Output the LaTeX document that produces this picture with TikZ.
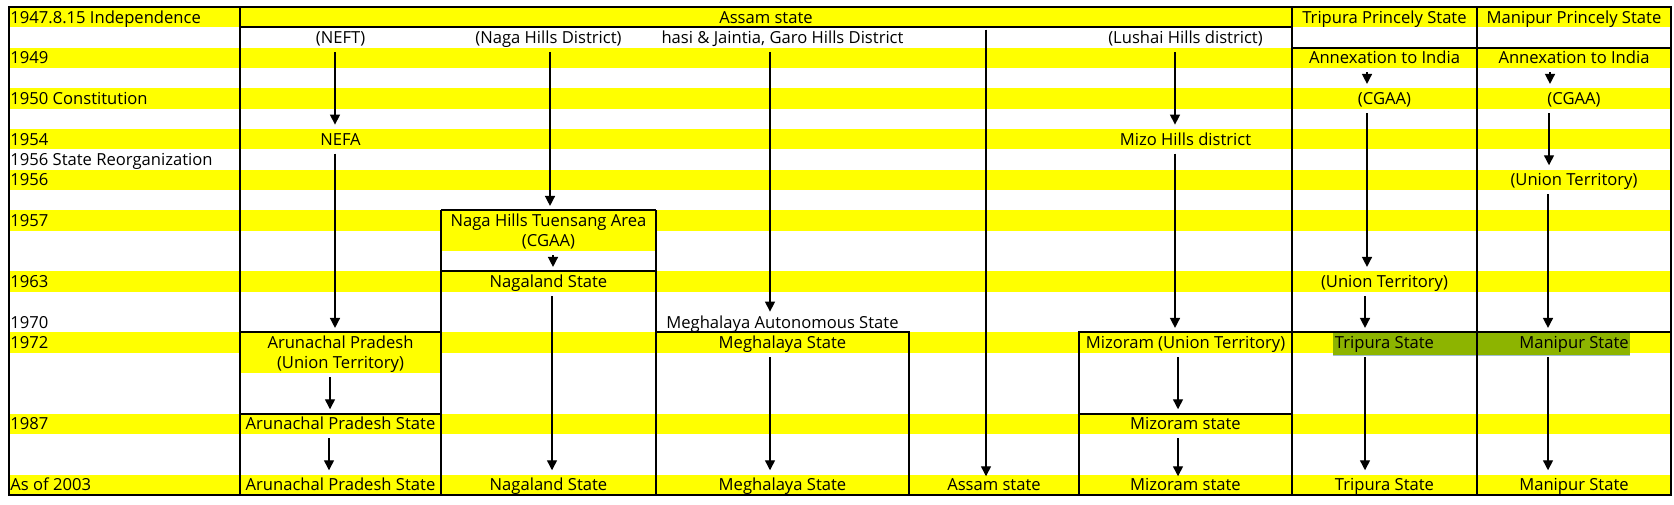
\documentclass[tikz,border=0pt]{standalone}
\usepackage{fontspec}
\setmainfont{Open Sans}
\usetikzlibrary{arrows.meta,calc}
\definecolor{hlyellow}{RGB}{255,255,0}
\definecolor{hlgreen}{RGB}{141,180,0}
\definecolor{hlblue}{RGB}{160,190,210}

\tikzset{
  cell/.style={inner sep=0pt, minimum height=10.1667pt, text height=5.9pt, text depth=0pt, font=\fontsize{8.3}{10}\selectfont},
  yearlbl/.style={cell, anchor=west},
  arr/.style={-{Triangle[length=5pt,width=5pt]}, line width=0.7pt, shorten <=2pt, shorten >=2pt},
  frame/.style={line width=0.9pt},
}

\begin{document}
\begin{tikzpicture}[x=0.5pt,y=-10.1667pt]
\useasboundingbox (0,-0.344) rectangle (1674,24.49);

% yellow rows
\fill[hlyellow] (9,0) rectangle (1671,1);
\fill[hlyellow] (9,2) rectangle (1671,3);
\fill[hlyellow] (9,4) rectangle (1671,5);
\fill[hlyellow] (9,6) rectangle (1671,7);
\fill[hlyellow] (9,8) rectangle (1671,9);
\fill[hlyellow] (9,10) rectangle (1671,11);
\fill[hlyellow] (441,11) rectangle (656,12);
\fill[hlyellow] (9,13) rectangle (1671,14);
\fill[hlyellow] (9,16) rectangle (1671,17);
\fill[hlyellow] (240,17) rectangle (441,18);
\fill[hlyellow] (9,20) rectangle (1671,21);
\fill[hlyellow] (9,23) rectangle (1671,24);
\fill[hlgreen] (1333,16.03) rectangle (1630,17.1);
\fill[hlblue] (1333,17.1) rectangle (1630,17.17);

% table lines
\draw[frame] (9,0) rectangle (1671,24);
\draw[frame] (240,0) -- (240,24);
\draw[frame] (240,1) -- (1292,1);
\draw[frame] (1292,0) -- (1292,24);
\draw[frame] (1477,0) -- (1477,24);
\draw[frame] (1292,2) -- (1671,2);
\draw[frame] (441,10) -- (656,10);
\draw[frame] (441,13) -- (656,13);
\draw[frame] (441,10) -- (441,24);
\draw[frame] (656,10) -- (656,24);
\draw[frame] (240,16) -- (441,16);
\draw[frame] (240,20) -- (441,20);
\draw[frame] (656,16) -- (909,16) -- (909,24);
\draw[frame] (1079,24) -- (1079,16) -- (1292,16);
\draw[frame] (1079,20) -- (1292,20);
\draw[frame] (1292,16) -- (1671,16);

% years
\node (y1947) at (10,0.5) [yearlbl] {1947.8.15 Independence};
\node (y1949) at (10,2.5) [yearlbl] {1949};
\node (y1950) at (10,4.5) [yearlbl] {1950 Constitution};
\node (y1954) at (10,6.5) [yearlbl] {1954};
\node (yreorg) at (10,7.5) [yearlbl] {1956 State Reorganization};
\node (y1956) at (10,8.5) [yearlbl] {1956};
\node (y1957) at (10,10.5) [yearlbl] {1957};
\node (y1963) at (10,13.5) [yearlbl] {1963};
\node (y1970) at (10,15.5) [yearlbl] {1970};
\node (y1972) at (10,16.5) [yearlbl] {1972};
\node (y1987) at (10,20.5) [yearlbl] {1987};
\node (y2003) at (10,23.5) [yearlbl] {As of 2003};

% headers
\node (assam) at (766,0.5) [cell] {Assam state};
\node (tripura) at (1384.5,0.5) [cell] {Tripura Princely State};
\node (manipur) at (1574,0.5) [cell] {Manipur Princely State};

% Arunachal
\node (neft) at (340.5,1.5) [cell] {(NEFT)};
\node (nefa) at (340.5,6.5) [cell] {NEFA};
\node (arunut) at (340.5,16.5) [cell] {Arunachal Pradesh};
\node (arunut2) at (340.5,17.5) [cell] {(Union Territory)};
\node (arunst) at (340.5,20.5) [cell] {Arunachal Pradesh State};
\node (arunnow) at (340.5,23.5) [cell] {Arunachal Pradesh State};

% Naga
\node (nagadist) at (548.5,1.5) [cell] {(Naga Hills District)};
\node (tuensang) at (548.5,10.5) [cell] {Naga Hills Tuensang Area};
\node (nagacgaa) at (548.5,11.5) [cell] {(CGAA)};
\node (nagast) at (548.5,13.5) [cell] {Nagaland State};
\node (naganow) at (548.5,23.5) [cell] {Nagaland State};

% Meghalaya
\node (khasi) at (782.5,1.5) [cell] {hasi \& Jaintia, Garo Hills District};
\node (megaut) at (782.5,15.5) [cell] {Meghalaya Autonomous State};
\node (megst) at (782.5,16.5) [cell] {Meghalaya State};
\node (megnow) at (782.5,23.5) [cell] {Meghalaya State};

% Assam
\node (assamnow) at (994,23.5) [cell] {Assam state};

% Mizoram
\node (lushai) at (1185.5,1.5) [cell] {(Lushai Hills district)};
\node (mizohills) at (1185.5,6.5) [cell] {Mizo Hills district};
\node (mizout) at (1185.5,16.5) [cell] {Mizoram (Union Territory)};
\node (mizost) at (1185.5,20.5) [cell] {Mizoram state};
\node (mizonow) at (1185.5,23.5) [cell] {Mizoram state};

% Tripura
\node (tripannex) at (1384.5,2.5) [cell] {Annexation to India};
\node (tripcgaa) at (1384.5,4.5) [cell] {(CGAA)};
\node (triput) at (1384.5,13.5) [cell] {(Union Territory)};
\node (tripst) at (1384.5,16.5) [cell] {Tripura State};
\node (tripnow) at (1384.5,23.5) [cell] {Tripura State};

% Manipur
\node (maniannex) at (1574,2.5) [cell] {Annexation to India};
\node (manicgaa) at (1574,4.5) [cell] {(CGAA)};
\node (maniut) at (1574,8.5) [cell] {(Union Territory)};
\node (manist) at (1574,16.5) [cell] {Manipur State};
\node (maninow) at (1574,23.5) [cell] {Manipur State};

% arrows
\draw[arr] ([xshift=-2.75pt]neft.south) -- ([xshift=-2.75pt]nefa.north);
\draw[arr] ([xshift=-2.75pt]nefa.south) -- ([xshift=-2.75pt]arunut.north);
\draw[arr] ([xshift=-5.25pt]arunut2.south) -- ([xshift=-5.25pt]arunst.north);
\draw[arr] ([xshift=-5.75pt]arunst.south) -- ([xshift=-5.75pt]arunnow.north);

\draw[arr] ([xshift=0.75pt]nagadist.south) -- ([xshift=0.75pt]tuensang.north);
\draw[arr] ([xshift=2.25pt]nagacgaa.south) -- ([xshift=2.25pt]nagast.north);
\draw[arr] ([xshift=1.75pt]nagast.south) -- ([xshift=1.75pt]naganow.north);

\draw[arr, shorten >=0pt] ([xshift=-6.25pt]khasi.south) -- ([xshift=-6.25pt]megaut.north);
\draw[arr] ([xshift=-6.25pt]megst.south) -- ([xshift=-6.25pt]megnow.north);

\draw[arr, shorten <=1pt, shorten >=-1pt] ($(assam.south -| assamnow.north)+(-4pt,0)$) -- ([xshift=-4pt]assamnow.north);

\draw[arr] ([xshift=-5.25pt]lushai.south) -- ([xshift=-5.25pt]mizohills.north);
\draw[arr] ([xshift=-5.25pt]mizohills.south) -- ([xshift=-5.25pt]mizout.north);
\draw[arr] ([xshift=-3.75pt]mizout.south) -- ([xshift=-3.75pt]mizost.north);
\draw[arr, shorten >=-1pt] ([xshift=-3.75pt]mizost.south) -- ([xshift=-3.75pt]mizonow.north);

\draw[arr] ([xshift=-8.75pt]tripannex.south) -- ([xshift=-8.75pt]tripcgaa.north);
\draw[arr] ([xshift=-8.75pt]tripcgaa.south) -- ([xshift=-8.75pt]triput.north);
\draw[arr] ([xshift=-9.75pt]triput.south) -- ([xshift=-9.75pt]tripst.north);
\draw[arr] ([xshift=-9.75pt]tripst.south) -- ([xshift=-9.75pt]tripnow.north);

\draw[arr] ([xshift=-12pt]maniannex.south) -- ([xshift=-12pt]manicgaa.north);
\draw[arr] ([xshift=-12.5pt]manicgaa.south) -- ([xshift=-12.5pt]maniut.north);
\draw[arr] ([xshift=-13pt]maniut.south) -- ([xshift=-13pt]manist.north);
\draw[arr] ([xshift=-13pt]manist.south) -- ([xshift=-13pt]maninow.north);

\end{tikzpicture}
\end{document}
